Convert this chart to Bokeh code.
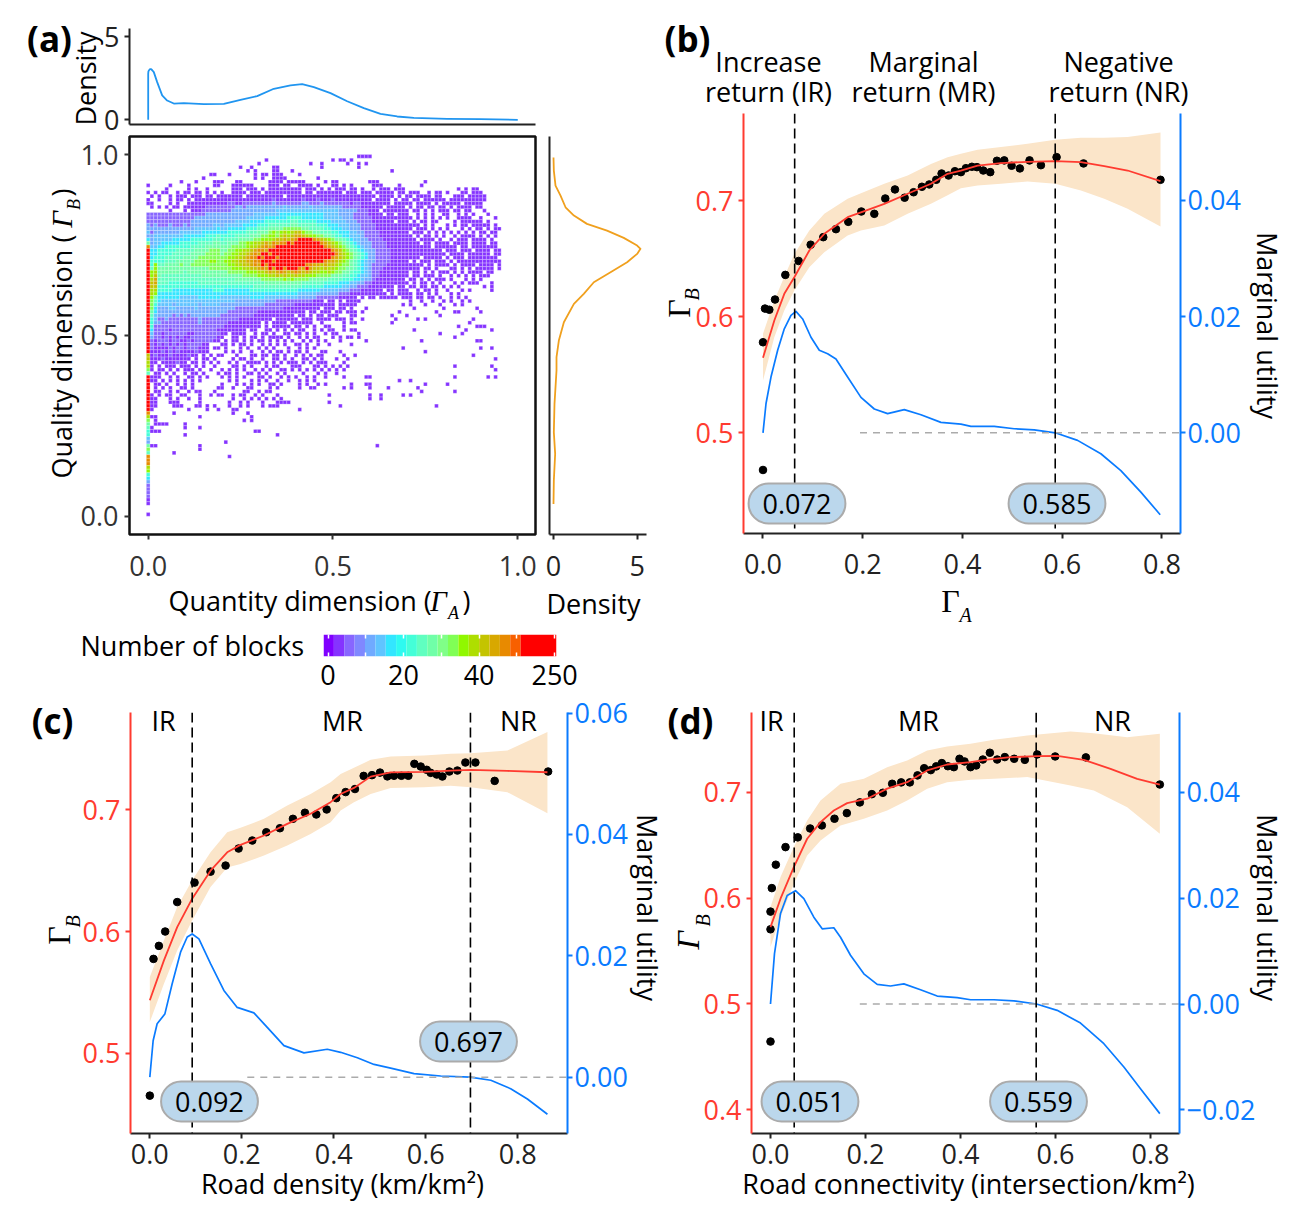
from math import pi
from bokeh.embed import file_html
from bokeh.resources import INLINE
from bokeh.models import (Range1d, LinearAxis, FixedTicker, Label, LinearColorMapper, Span, ColumnDataSource)
from bokeh.plotting import figure

FONT = "Open Sans"
SERIF = "Liberation Serif"
RED = "#FF3B30"
BLUE = "#0A7BFF"
BAND = "#FBE5C9"

# ---------------- panel (a) ----------------
TOP_X = [0, 0, .0005, .0017, .005, .008, .0115, .0152, .0243, .0378, .0513, .0693, .0964, .1505, .2047, .2497, .2948, .3399, .3851, .4166, .4482, .4933, .5384, .5835, .6286, .6737, .7188, .809, .8992, 1.0]
TOP_D = [0, 2.77, 2.9, 2.97, 3.05, 3.05, 2.97, 2.87, 2.27, 1.47, 1.16, .98, 1.0, .94, .96, 1.2, 1.43, 1.87, 2.07, 2.15, 1.97, 1.61, 1.12, .70, .36, .20, .12, .06, .04, 0]
RIGHT_D = [0, .02, .10, .02, .06, .18, .18, .32, .62, 1.22, 1.81, 2.41, 3.41, 4.40, 5.0, 5.2, 5.0, 4.2, 3.2, 2.0, 1.22, .72, .42, .12, .02, 0]
RIGHT_Y = [.034, .0987, .1725, .2322, .3107, .4028, .4396, .4858, .5364, .5872, .6149, .647, .6746, .7022, .7254, .7393, .7484, .7697, .7899, .8084, .8314, .8543, .8866, .9143, .9558, .9919]

LEVEL_COUNT = {'1': 3, '2': 7, '3': 10, '4': 14, '5': 18, '6': 21, '7': 25, '8': 29, '9': 33,
               'a': 36, 'b': 39, 'c': 42, 'd': 45, 'e': 48, 'f': 120}
HEAT_ROWS = [
".......... .......... .......... .......... .......... .......111 1",
".......... .......... .......... ..1....... .......... 1.11.1",
".......... .......... .......... 1......... ....1..1.. ....1..1.1",
".......... .......... .....1..1. ....11.... .......1.. .......1..",
".......... .......... .......1.1 ....11...1 .......... .......... ......1...",
".......... .......11. ..1......1 .11.111... .1........",
".......... .....1.... .........1 .1..1111.. ......1...",
".........1 ...1....11 1...11.... ...1111.11 111.....1. 11........ 111....... .....1....",
"1.....1... .1......11 ...111111. ...111.11. .1111.1... 11.1.1.... .111....1. ....1.....",
".....1.... .1.1..1... ...111.111 .1.1111111 11.111.1.1 .111.11.1. .1.111.111 .......... ....1.1.11",
"1.1.11..1. 11.11.1.1. 1..1111.11 1.11111111 11.11.1111 111.111.11 1.11111.11 .111..1.11 .1...11.11 1",
".1.1..1.11 1.111.11.1 111111.111 1111111.11 1111111111 1111111111 11.1111.1. 11.1111.11 ...111.111 11",
"1..1..1.11 .1.1111111 1111111111 1111211111 1121112111 2111111111 1.1111.1.1 1.11.11111 1.11111111 11",
"11....1.1. .111111111 1122112222 2222322222 2233222322 2222212211 111111.111 11.1111.1. 11111.1111 1.",
".1.1.1.11. 1111112222 2222332333 3333333433 3333433333 3332222211 1111.11111 .1.11.11.1 1.1.1111.1 1",
"......1... 1.11122222 2223333333 3333344444 4444444444 4433333222 111.111111 1.11.1.1.1 11.11.11.. .1",
"2222222222 2222223333 3333333334 4444445555 5555555544 4433332222 1111.11.11 1..1.1.1.. 11..1.1.1. ..1",
"2222222222 2223333333 3333333444 4455555566 6655555544 4443332222 2111111111 11.1.1.1.1 .1..1111.. 1...1",
"2222222222 2233333333 3333444455 5566666667 7666665555 4444333222 2111111.11 1.1.11.11. ...1.11111 1.1",
"3232223222 3233333344 3444445555 6667777778 8777776665 5544433322 2211111111 1111.1.1.. .1.1.11.11 111.1",
"3333333333 3334444445 4455555666 7778888999 9988777766 5554433322 2211111111 11.111.1.1 .1...1.1.1 1.1.11",
"4233333334 4444455555 5566666777 8889a9abab cca9988777 6655544332 2221111111 1.111.1.1. 1.1.1.1.1. 11.11",
"3344444444 5555556667 6666777788 899aa9bcbc ddcbaa9988 7665544432 2221111111 11.1.11.1. 1..1.1111. 1.1.1",
"5344444555 5566666677 6777788889 9aaabccdcd effffedcba 9887654433 2222111111 111.1111.1 ..1.111.11 11.1",
"8344555556 6666777788 7788899aab bcdcedeefe fffffffedc ba98765433 3222211111 1111.11.11 11.1111.11 11.11",
"e445566666 6677778888 8889999abb cdedefffff ffffffffed cba9876543 3222211111 1111111.11 1111.11.11 11111",
"f556666677 7778888999 8899aabbcd eedfffffff ffffffffff edca987654 3322221111 1111111111 .111.111.1 111.11",
"f556666777 7788889999 899aabbcde dffeffffff ffffffffff fecba98765 3322221111 1111111111 1.1111.111 111.11",
"f566677777 8888999999 99aabbcdee fefffeffff ffffffffff edcba98765 3322221111 1111.11111 .1.111.111 11111",
"f666677788 8889999aa9 9aabbccdde efffefffff ffffffffed dcba987654 3322221111 1.1.111.11 1.1.111111 111111",
"f6a7788889 8899999999 99aabbccde dfefffffff fffeeddcdc cba9987654 3222211111 11111.1.11 11.1.1111. 1111.1",
"f7a8888888 8888888999 999aaabbcc dedfdffeff fedfdccbcb ba99887654 3222111111 1111.11.1. ..11.1.1.1 1111.1",
"fab8888888 7888888888 8899999aaa bbcdcdedcd edcdcbbaab a998876654 3221111111 1.11.1.1.1 11.1.1.111 1.11",
"fac8777777 7777788888 8888889999 aaabbcbcbb cbbaaa9999 8887766544 3221111111 1.11.111.1 ..1.1.1.1. 111",
"fbd7777777 7777777777 7777888888 8999999a9a 9999888887 7776665543 3211111111 .11.1.1.11 1.1...1.1. 1",
"fcd7776666 6666777777 7777777777 7788888888 8877777766 6655544332 2111111111 1.1.11.1.1 ...1.1.111 ...1",
"fcc6666666 6666666666 6666666667 7777777777 7766666655 5554433222 1111111.11 .11.11.11. 1.1.1..... .1.1",
"fbb6666555 5555555566 6555555566 6666666666 6555555444 4433322211 1111.11.11 1..1.11.1. .1...1.1.. ...1",
"fba5555555 5555555555 5555555555 5555555555 5444443333 3322211111 11111.1.11 11.11.1.1. ..1.1",
"fa85555554 4444555555 4444444455 5544444444 4333332222 2211111.1. 11.11111.1 11.11.11.1 ..1.1.1",
"f975444444 4444444444 4444333333 3333322222 22222111.1 1.1.1111..",
"f964444344 4444344444 3333333333 3322222222 1111111111 1.11111...",
"f953334433 3334333333 3333222222 2222222111 1111111.11 1.11.1...1",
"f853333333 3333333333 3322222222 1111111111 111.11.111 .11.111.1.",
"f743333232 3233333333 2222222221 1111111111 .11.1.11.1 11...11...",
"f642232222 2222322222 2222211111 1111.11111 1.111.1111 .111.1..1.",
"f633222222 2222322222 2211111111 1.1.1111.1 11111..1.. ...1.11...",
"f622222222 2222222222 2111111111 1.1.11111. 11.1.1..11 ...1......",
"f522221222 2222222221 1111111.11 ..11.1.1.1 .11..1.1.1 1..1.11...",
"f422122222 2112222222 11.1111..1 .11.1..11. 11.1.1..1. 11.....1..",
"f322121212 1122222221 1..11.1.11 .1.1111.1. .1.1.11... 1.1.11.1..",
"f212221221 1212222211 .1.11.1.1. 11.1.1.1.1 ..1.1.1.1. ..1......1",
"f212121212 1222211... 11.1.11.1. .1.1.1.1.. 11.1..1..1 .....1....",
"f211112122 1222111.11 .1...1.1.. 1.1.1...1. .1.1.1....",
"f111212121 1112111... .1.1.1..1. .1.1.11.1. 11.1...11. ..1.......",
"c121112111 1211.1.1.1 1...1...11 .11.11.1.. 1.1.1.11.. ...1..1...",
"c111211111 11.1.11.1. ...1.11.1. .1..11.1.1 ..11.1.1.. .1..1.....",
"b11.111121 1.11.1.1.1 ..1.1..111 1.1.1.1.11 1.1.1.111. ...1......",
"b1.1.111.1 11.1.1..1. ...11.1.1. ..1.11...1 11...11.1. 1.1.1.....",
"91.11.1.1. 111.1..1.. 1.1.1.1..1 .1.1..11.1 .1.1.1.1.1 .1.1......",
"7.11.1.1.. 1.11.1...1 .11.1..11. 1.1..1.1.. ..1...1.1. .1........",
"f111..1.1. .11.1.1... 1.1.1.1... 11.1..1.1. 1..1.1..1. ...1.....1",
"f11.1.1.1. 1.1.1..... ..1.1...1. 1.1..1..1. .1.1.1....",
"f.11.1..1. 1.1....... 1...1.1.1. 1..11.1... .1.1..1.1. .....1...1",
]
# rows further down: first-column level, then the columns holding a single faint cell
SPARSE_ROWS = {
    64: ('f', [2, 4, 6, 9, 10, 12, 19, 20, 23, 27, 28, 33, 35, 41, 44, 45, 53, 55, 65, 73]),
    65: ('f', [2, 3, 6, 8, 11, 13, 14, 18, 26, 27, 30, 32, 33, 74, 83]),
    66: ('f', [1, 3, 5, 6, 9, 10, 14, 17, 19, 20, 23, 25, 26, 29, 31, 35, 49, 60, 69, 71]),
    67: ('f', [1, 2, 6, 8, 11, 14, 23, 26, 28, 30, 32, 34, 36, 63]),
    68: ('f', [1, 2, 6, 7, 8, 14, 22, 25, 27, 31, 35, 36, 37, 38, 49]),
    69: ('f', [1, 2, 7, 8, 9, 13, 14, 16, 18, 22, 25, 27, 31, 33, 34, 35, 52, 78]),
    70: ('f', [1, 11, 16, 19, 23, 24, 41]),
    71: ('e', [7, 23, 27]),
    72: ('b', [1, 2, 14, 28]),
    73: ('9', [2, 26, 28]),
    74: ('8', [2, 3, 4, 5, 10]),
    75: ('7', [1, 10, 14]),
    76: ('6', [1, 2, 3, 29, 30]),
    77: ('6', [10, 35]),
    78: ('4', []),
    79: ('3', [21]),
    80: ('8', [1, 2, 14, 62]),
    81: ('9', [14]),
    82: ('7', [7]),
    83: ('e', [22]),
    84: ('e', []), 85: ('e', []), 86: ('b', []), 87: ('a', []), 88: ('6', []), 89: ('5', []),
    90: ('3', []), 91: ('2', []), 92: ('2', []), 93: ('2', []), 94: ('2', []), 95: ('1', []), 96: ('1', []),
    99: ('1', []),
}
# isolated cells (row, column) on the right-hand fringe
FRINGE_CELLS = [(58, 83), (61, 83), (58, 93), (56, 94), (59, 94), (61, 92), (61, 94), (55, 88), (53, 90), (53, 93),
                (51, 90), (51, 89), (53, 69), (54, 75), (51, 74), (49, 79), (50, 83), (49, 85), (48, 86), (47, 84),
                (46, 87), (45, 88), (47, 89), (47, 90), (47, 91), (48, 93), (43, 90), (42, 89), (43, 83), (43, 84),
                (43, 78), (44, 79), (48, 72), (45, 73), (45, 75), (46, 66), (45, 67), (43, 68), (41, 71), (41, 69),
                (41, 75), (41, 79), (41, 83), (41, 85), (40, 71), (40, 74), (40, 77), (40, 80), (40, 82), (40, 85),
                (40, 87), (42, 72), (42, 80), (44, 66), (44, 70), (61, 60), (63, 60), (62, 68), (62, 71), (63, 75),
                (63, 81), (66, 63), (64, 60), (67, 60)]

COLOR_BLOCKS = ["#8000FF", "#8533FF", "#8866FF", "#8088FF", "#70AAFF", "#60C4FF", "#33E6FF", "#2EFAF0", "#44FFD8",
                "#60FFC0", "#70FFA8", "#80FF88", "#80FF55", "#90F800", "#AEDE00", "#C4C400", "#D8A800", "#E88A00", "#F86000"]
COLOR_TICKS = [0, 10, 20, 30, 40, 50, 60]
COLOR_TICK_TEXT = {0: "0", 10: "", 20: "20", 30: "", 40: "40", 50: "", 60: "250"}

cell_x, cell_y, cell_n = [], [], []
for r, txt in enumerate(HEAT_ROWS):
    txt = txt.replace(" ", "")
    for c, ch in enumerate(txt):
        if ch != '.':
            cell_x.append(c * .01); cell_y.append(.995 - .01 * r); cell_n.append(LEVEL_COUNT[ch])
for r, (first, cols) in SPARSE_ROWS.items():
    cell_x.append(0); cell_y.append(.995 - .01 * r); cell_n.append(LEVEL_COUNT[first])
    for c in cols:
        cell_x.append(c * .01); cell_y.append(.995 - .01 * r); cell_n.append(3)
for r, c in FRINGE_CELLS:
    cell_x.append(c * .01); cell_y.append(.995 - .01 * r); cell_n.append(3)

# ---------------- panel (b) ----------------
B_PX = [0, 0, .004, .0127, .0241, .0448, .0715, .0956, .1209, .1463, .171, .1972, .2232, .2452, .2646, .284, .302, .3187, .3334, .3474, .3581, .3721, .3848, .3969, .4069, .4189, .429, .4417, .4557, .4691, .4838, .4985, .5151, .5345, .5573, .5887, .6428, .7971]
B_PY = [.468, .578, .607, .606, .6148, .636, .648, .662, .6685, .6754, .6817, .6906, .6886, .7018, .7096, .7025, .7072, .7119, .7139, .7179, .7233, .7216, .7253, .7245, .7279, .7291, .7288, .7259, .7245, .7343, .7346, .73, .7277, .7346, .7305, .7374, .732, .7179]
B_FX = [0, .0227, .0427, .0628, .0929, .1229, .1697, .1964, .2432, .29, .3368, .3702, .3969, .4303, .4771, .5305, .586, .6375, .6843, .7311, .7971]
B_FY = [.5646, .5967, .6197, .634, .657, .6714, .6857, .6899, .6972, .7059, .7145, .7231, .7259, .7302, .7323, .7334, .734, .7331, .7297, .7259, .7167]
B_HI = [.5853, .614, .6344, .654, .6743, .6887, .7015, .7064, .7145, .7217, .7316, .7374, .7403, .7438, .7461, .7489, .7524, .7541, .7541, .7547, .7587]
B_LO = [.545, .5823, .6054, .6226, .6425, .6556, .67, .6743, .6786, .6886, .6972, .7045, .7107, .713, .7145, .7165, .7145, .7087, .7015, .6929, .6777]
B_MX = [0, .006, .016, .0294, .0427, .0561, .0661, .0795, .0962, .1129, .1296, .1463, .1697, .1964, .2232, .2499, .2833, .3167, .3568, .3969, .417, .4637, .5037, .5439, .586, .6308, .6775, .7176, .7577, .7965]
B_MU = [0, .005, .0096, .0142, .0179, .0202, .0209, .0196, .01645, .0142, .0136, .0127, .0096, .0061, .0041, .0033, .004, .0031, .0018, .0015, .0011, .0011, .0007, .0005, 0, -.0013, -.0036, -.0065, -.0102, -.0141]

# ---------------- panel (c) ----------------
C_PX = [0, .008, .0197, .0334, .0595, .0972, .132, .1647, .193, .2227, .2532, .2828, .3111, .3372, .3619, .3844, .4054, .4257, .446, .4649, .483, .5004, .5164, .5309, .5469, .5621, .5751, .5889, .6019, .6106, .6237, .636, .6512, .6686, .686, .7078, .7497, .8659]
C_PY = [.4651, .5775, .5882, .6, .6242, .6402, .6492, .6542, .6682, .6748, .6816, .6849, .6926, .6976, .6962, .7003, .7096, .7146, .7171, .7279, .7285, .7306, .7275, .728, .728, .728, .7378, .7356, .7329, .7304, .729, .7274, .7315, .7323, .7389, .7389, .7238, .7315]
C_FX = [0, .0305, .0595, .0921, .132, .1682, .1972, .2481, .2988, .3495, .393, .4148, .4438, .4801, .5236, .5962, .6541, .6976, .7774, .8644]
C_FY = [.5435, .5761, .6036, .627, .65, .6651, .6712, .6789, .6885, .6968, .7063, .713, .718, .7273, .7308, .7312, .7323, .7328, .732, .7309]
C_HI = [.5627, .5926, .6201, .6421, .6651, .6816, .6852, .6926, .7036, .713, .7226, .7294, .7345, .7411, .7438, .7446, .746, .7465, .7488, .7639]
C_LO = [.5256, .5569, .5844, .6091, .6366, .6527, .6555, .6624, .6706, .6802, .6898, .6995, .7063, .713, .718, .7185, .7199, .7185, .7144, .6973]
C_MX = [0, .0072, .0159, .0326, .0486, .0668, .0813, .0921, .1067, .132, .161, .19, .2263, .2553, .2916, .3351, .3858, .4148, .4511, .4874, .5236, .5744, .6323, .6962, .7413, .7845, .8208, .8644]
C_MU = [0, .006, .0088, .0104, .0154, .0206, .0231, .0236, .0228, .0187, .0143, .0115, .0106, .0082, .0052, .004, .0046, .0041, .0032, .0021, .0015, .0006, .0002, 0, -.0005, -.0019, -.0036, -.0061]

# ---------------- panel (d) ----------------
D_PX = [0, 0, 0, .0028, .0112, .0316, .0575, .0835, .1081, .1347, .1607, .1881, .2133, .2365, .2561, .2751, .2933, .3095, .3235, .3375, .3488, .3607, .3733, .386, .3979, .4084, .4211, .433, .447, .4618, .4772, .4933, .513, .5354, .5614, .5993, .6639, .8196]
D_PY = [.4645, .5705, .5872, .6094, .6315, .6481, .6573, .6657, .6686, .6749, .6802, .6903, .6981, .6994, .7079, .7092, .7092, .7158, .7226, .7208, .7243, .7274, .7245, .7236, .7315, .729, .7236, .7252, .7308, .7372, .7308, .7331, .7315, .7305, .7356, .7337, .7328, .7072]
D_FX = [0, .0211, .0491, .0772, .1053, .1333, .1614, .2035, .2456, .2877, .3298, .3719, .4211, .4561, .5053, .5614, .6035, .6596, .7158, .7719, .8196]
D_FY = [.5726, .5994, .6292, .656, .6717, .6827, .6896, .6938, .7033, .7094, .7205, .7261, .7284, .7308, .733, .734, .7343, .7305, .722, .7126, .7072]
D_BX = [0, .0211, .0491, .0772, .1053, .1474, .1965, .2456, .2877, .3298, .3719, .4211, .4702, .5404, .6316, .6807, .7509, .8196]
D_HI = [.5915, .6198, .6481, .6733, .6922, .7079, .7126, .7236, .7299, .7393, .7431, .7457, .7494, .7535, .7573, .7557, .7519, .7551]
D_LO = [.5538, .5821, .6136, .6403, .6544, .6686, .6749, .6827, .6922, .7033, .7094, .7117, .7126, .7142, .7063, .7016, .6858, .6607]
D_MX = [0, .0084, .0211, .0351, .0526, .0702, .0912, .1088, .1333, .1474, .1684, .1965, .2246, .2526, .2807, .3158, .3509, .393, .4211, .4702, .5123, .56, .6035, .6526, .7018, .7439, .7789, .8196]
D_MU = [0, .0095, .0171, .0205, .0214, .0199, .0164, .0142, .0144, .0126, .0092, .0057, .0037, .0034, .0038, .0027, .0015, .0012, .0008, .0008, .0006, 0, -.0012, -.0036, -.0075, -.0119, -.016, -.0207]

PAGE_W, PAGE_H = 1300, 1210
overlay = figure(width=PAGE_W, height=PAGE_H, x_range=Range1d(0, PAGE_W), y_range=Range1d(PAGE_H, 0),
                 min_border=0, x_axis_location=None, y_axis_location=None, output_backend="svg", toolbar_location=None,
                 background_fill_color=None, border_fill_color=None, outline_line_color=None,
                 styles={"position": "absolute", "left": "0px", "top": "0px"})
overlay.grid.visible = False


def T(px, py, text, size=27, color="black", font=FONT, style="normal", angle=0, align="center", base="middle", **kw):
    # the font's line box sits about 2px off-centre, along the text's own "down" direction
    if angle == 0:
        py -= 2
    elif angle > 0:
        px -= 2
    else:
        px += 2
    overlay.add_layout(Label(x=px, y=py, text=text, text_font=font, text_font_size=f"{size}px", text_color=color,
                             text_font_style=style, angle=angle, text_align=align, text_baseline=base, **kw))


def pill(px, py, text):
    T(px, py + 1, text, background_fill_color="#BBD7EC", border_line_color="#ABABAB",
      border_line_width=2, padding=(14, 10), border_radius=20)


def style_axis(ax, color, standoff=5):
    ax.axis_line_color = color
    ax.axis_line_width = 2
    ax.major_tick_line_color = color
    ax.major_tick_line_width = 2
    ax.major_tick_in = 0
    ax.major_tick_out = 5
    ax.minor_tick_line_color = None
    ax.major_label_text_font = FONT
    ax.major_label_text_font_size = "27px"
    ax.major_label_text_color = color
    ax.major_label_standoff = standoff


def place(frame_l, frame_t, frame_r, frame_b, L, R, Tp, Bt, xr, yr):
    """Figure whose plotting frame occupies the given page rectangle."""
    f = figure(width=frame_r - frame_l + L + R, height=frame_b - frame_t + Tp + Bt,
               min_border_left=L, min_border_right=R, min_border_top=Tp, min_border_bottom=Bt,
               x_range=Range1d(*xr), y_range=Range1d(*yr), output_backend="svg", toolbar_location=None,
               background_fill_color=None, border_fill_color=None,
               styles={"position": "absolute", "left": f"{frame_l - L}px", "top": f"{frame_t - Tp}px"})
    f.grid.visible = False
    f.outline_line_color = None
    return f


# ---- top density
a_top = place(129, 28, 535, 124, 60, 5, 18, 20, (-.0506, 1.048), (-.283, 5.5))
a_top.line(TOP_X, TOP_D, color="#2095F0", line_width=1.8, line_join="round")
style_axis(a_top.xaxis[0], "#222222")
a_top.xaxis[0].ticker = FixedTicker(ticks=[])
style_axis(a_top.yaxis[0], "#222222")
a_top.yaxis[0].ticker = FixedTicker(ticks=[0, 5])

# ---- heat map
mapper = LinearColorMapper(palette=COLOR_BLOCKS, low=-1.2, high=51, high_color="#FF0000")
main = place(129, 136, 535, 534, 60, 5, 6, 50, (-.0506, 1.048), (-.0506, 1.05))
src = ColumnDataSource(dict(x=cell_x, y=cell_y, n=cell_n))
main.rect("x", "y", width=.01, height=.01, source=src, fill_color={"field": "n", "transform": mapper},
          line_color="white", line_width=.35, line_alpha=.7)
main.outline_line_color = "#111111"
main.outline_line_width = 2.5
for ax, so in ((main.xaxis[0], 16), (main.yaxis[0], 6)):
    style_axis(ax, "#333333", so)
    ax.axis_line_color = None
    ax.ticker = FixedTicker(ticks=[0, .5, 1])
    ax.major_label_overrides = {0: "0.0", .5: "0.5", 1: "1.0"}

# ---- right density
a_right = place(549, 136, 646, 534, 9, 9, 6, 50, (-.239, 5.56), (-.0506, 1.05))
a_right.line(RIGHT_D, RIGHT_Y, color="#F0A01E", line_width=1.8, line_join="round")
style_axis(a_right.xaxis[0], "#222222", 16)
a_right.xaxis[0].ticker = FixedTicker(ticks=[0, 5])
style_axis(a_right.yaxis[0], "#222222")
a_right.yaxis[0].ticker = FixedTicker(ticks=[])

# ---- colour bar
cb = place(323, 634, 556, 656, 8, 29, 9, 39, (-1.2, 60.5), (0, 1))
step = 52.2 / len(COLOR_BLOCKS)
left = [-1.2 + i * step for i in range(len(COLOR_BLOCKS))] + [51]
right = [-1.2 + (i + 1) * step for i in range(len(COLOR_BLOCKS))] + [60.5]
cb.quad(left=left, right=right, bottom=0, top=1, fill_color=COLOR_BLOCKS + ["#FF0000"], line_color=None)
bx = cb.xaxis[0]
style_axis(bx, "white", 8)
bx.axis_line_color = None
bx.ticker = FixedTicker(ticks=COLOR_TICKS)
bx.major_label_overrides = COLOR_TICK_TEXT
bx.major_label_text_color = "black"
bx.major_tick_in = 4
bx.major_tick_out = 0
bx.major_tick_line_width = 1.5
top_ax = LinearAxis(ticker=FixedTicker(ticks=COLOR_TICKS), major_label_overrides={t: "" for t in COLOR_TICKS},
                    axis_line_color=None, major_tick_line_color="white", major_tick_in=4, major_tick_out=0,
                    major_tick_line_width=1.5, minor_tick_line_color=None, major_label_standoff=0,
                    major_label_text_font_size="10px")
cb.add_layout(top_ax, "above")
cb.yaxis.visible = False


def utility_panel(frame, L, R, xr, yr, yr2, left_ticks, right_ticks, right_over,
                  fx, fy, bx_, hi, lo, px, py, mx, mu, lines, dash_start, xstand):
    f = place(*frame, L, R, 18, 60, xr, yr)
    f.extra_y_ranges = {"mu": Range1d(*yr2)}
    f.varea(bx_, lo, hi, fill_color=BAND, fill_alpha=1)
    f.line(mx, mu, color=BLUE, line_width=1.7, y_range_name="mu", line_join="round")
    f.line([dash_start, xr[1]], [0, 0], y_range_name="mu", line_color="#ABABAB", line_width=1.6, line_dash=[7, 6])
    for v in lines:
        f.add_layout(Span(location=v, dimension="height", line_color="black", line_width=1.6, line_dash=[10, 5]))
    f.scatter(px, py, size=7.6, color="black")
    f.line(fx, fy, color=RED, line_width=1.8, line_join="round")
    style_axis(f.xaxis[0], "#222222", xstand)
    f.xaxis[0].ticker = FixedTicker(ticks=[0, .2, .4, .6, .8])
    f.xaxis[0].major_label_overrides = {0: "0.0", .2: "0.2", .4: "0.4", .6: "0.6", .8: "0.8"}
    style_axis(f.yaxis[0], RED)
    f.yaxis[0].ticker = FixedTicker(ticks=left_ticks)
    r_ax = LinearAxis(y_range_name="mu", ticker=FixedTicker(ticks=right_ticks), major_label_overrides=right_over)
    style_axis(r_ax, BLUE, 2)
    f.add_layout(r_ax, "right")
    return f


R_B = {.04: "0.04", .02: "0.02", 0: "0.00"}
pb = utility_panel((743, 113, 1180, 533), 60, 85, (-.0391, .8372), (.4133, .775), (-.01733, .05496),
                   [.5, .6, .7], [0, .02, .04], R_B, B_FX, B_FY, B_FX, B_HI, B_LO, B_PX, B_PY, B_MX, B_MU,
                   [.0635, .586], .1945, 15)
R_C = {.06: "0.06", .04: "0.04", .02: "0.02", 0: "0.00"}
pc = utility_panel((130, 712, 567, 1133), 60, 85, (-.042, .908), (.434, .78), (-.00928, .0601),
                   [.5, .6, .7], [0, .02, .04, .06], R_C, C_FX, C_FY, C_FX, C_HI, C_LO, C_PX, C_PY, C_MX, C_MU,
                   [.0921, .697], .2119, 5)
R_D = {.04: "0.04", .02: "0.02", 0: "0.00", -.02: "−0.02"}
pd_ = utility_panel((751, 712, 1179, 1133), 60, 90, (-.04, .861), (.3777, .7752), (-.02445, .05504),
                    [.4, .5, .6, .7], [-.02, 0, .02, .04], R_D, D_FX, D_FY, D_BX, D_HI, D_LO, D_PX, D_PY, D_MX, D_MU,
                    [.0499, .5593], .188, 5)

# ---- all texts placed on the page
T(49, 40, "(a)", size=35, style="bold")
T(87, 78, "Density", angle=pi / 2)
T(168, 602, "Quantity dimension (", align="left")
T(438, 602, "Γ", font=SERIF, style="italic", size=29)
T(453, 614, "A", font=SERIF, style="italic", size=18)
T(466, 602, ")")
T(63, 478, "Quality dimension (", angle=pi / 2, align="left")
T(63, 219, "Γ", font=SERIF, style="italic", size=29, angle=pi / 2)
T(75, 204, "B", font=SERIF, style="italic", size=18, angle=pi / 2)
T(63, 192, ")", angle=pi / 2)
T(593, 605, "Density")
T(80, 647, "Number of blocks", align="left")

T(687, 40, "(b)", size=35, style="bold")
for cx, a, b in [(768, "Increase", "return (IR)"), (923, "Marginal", "return (MR)"), (1118, "Negative", "return (NR)")]:
    T(cx, 63, a)
    T(cx, 93, b)
T(950, 602, "Γ", font=SERIF, size=32)
T(965, 616, "A", font=SERIF, style="italic", size=20)
T(680, 308, "Γ", font=SERIF, size=32, angle=pi / 2)
T(693, 294, "B", font=SERIF, style="italic", size=20, angle=pi / 2)
T(1265, 325, "Marginal utility", angle=-pi / 2)
pill(796.5, 504, "0.072")
pill(1056.5, 504, "0.585")

T(52, 722, "(c)", size=35, style="bold")
for cx, t in [(163, "IR"), (342, "MR"), (518, "NR")]:
    T(cx, 722, t)
T(60, 935, "Γ", font=SERIF, size=32, angle=pi / 2)
T(74, 921, "B", font=SERIF, style="italic", size=20, angle=pi / 2)
T(645, 907, "Marginal utility", angle=-pi / 2)
T(342, 1185, "Road density (km/km²)")
pill(209, 1102, "0.092")
pill(468, 1042, "0.697")

T(690, 722, "(d)", size=35, style="bold")
for cx, t in [(771, "IR"), (918, "MR"), (1112, "NR")]:
    T(cx, 722, t)
T(689, 940, "Γ", font=SERIF, style="italic", size=32, angle=pi / 2)
T(704, 920, "B", font=SERIF, style="italic", size=20, angle=pi / 2)
T(1265, 907, "Marginal utility", angle=-pi / 2)
T(968, 1185, "Road connectivity (intersection/km²)")
pill(809.5, 1102, "0.051")
pill(1038, 1102, "0.559")

open("out.html", "w").write(file_html([a_top, main, a_right, cb, pb, pc, pd_, overlay], INLINE))
